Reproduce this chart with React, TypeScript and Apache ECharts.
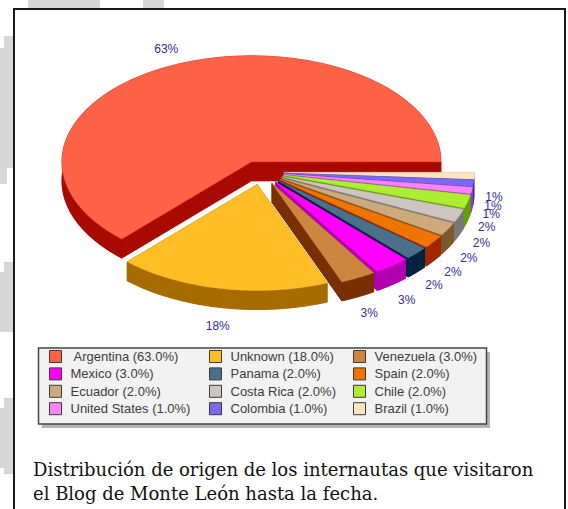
import React, { useEffect, useRef } from "react";
import * as echarts from "echarts";

const categories = ["Argentina", "Unknown", "Venezuela", "Mexico", "Panama", "Spain", "Ecuador", "Costa Rica", "Chile", "United States", "Colombia", "Brazil"];
const shares = [63, 18, 3, 3, 2, 2, 2, 2, 2, 1, 1, 1];
const topColors = ["#FF6347", "#FFBE26", "#CD853F", "#FF00FF", "#4A708B", "#EE7600", "#CDAA7D", "#CDC5BF", "#ADEE35", "#FF83FA", "#7B68EE", "#FFE4C4"];
const sideColors = ["#A80A00", "#A66C00", "#7A2F00", "#B000B0", "#00203F", "#A02800", "#7A5A2A", "#787878", "#60A000", "#A030D0", "#3030C0", "#C8B090"];
const legendColumns = [[0, 3, 6, 9], [1, 4, 7, 10], [2, 5, 8, 11]];
const caption = ["Distribución de origen de los internautas que visitaron", "el Blog de Monte León hasta la fecha."];

const CX = 261.5, CY = 172, RX = 190, RY = 106, DEPTH = 19, EXPLODE = 0.12;
const rad = (d: number) => (d * Math.PI) / 180;
const seriesName = (i: number) => `${categories[i]} (${shares[i].toFixed(1)}%)`;
const startPct = (i: number) => shares.slice(0, i).reduce((a, b) => a + b, 0);

function renderSlice(index: number) {
  return (_params: any, api: any) => {
    const value = api.value(0);
    const a0 = startPct(index) * 3.6;
    const a1 = a0 + value * 3.6;
    const mid = rad((a0 + a1) / 2);
    const nudgeX = index === 0 ? -1 : 0;
    const nudgeY = index === 0 ? 1.5 : 0;
    const radiusX = index === 0 ? 189.5 : RX;
    const ax = CX + nudgeX + RX * EXPLODE * Math.cos(mid);
    const ay = CY + nudgeY - RY * EXPLODE * Math.sin(mid);
    const arc: number[][] = [];
    const steps = Math.max(4, Math.ceil(a1 - a0));
    for (let s = 0; s <= steps; s++) {
      const t = rad(a0 + ((a1 - a0) * s) / steps);
      arc.push([ax + radiusX * Math.cos(t), ay - RY * Math.sin(t)]);
    }
    const down = (p: number[]) => [p[0], p[1] + DEPTH];
    const apex = [ax, ay];
    const dark = sideColors[index];
    const light = topColors[index];
    const side = (points: number[][]) => ({
      type: "polygon",
      shape: { points },
      style: { fill: dark, stroke: dark, lineWidth: 0.6 },
    });
    const cos = Math.cos(mid), sin = Math.sin(mid);
    const lx = (sin > 0 ? 260 : 262) + (cos > 0.95 ? 232 : 236) * cos;
    const ly = 193 - (sin > 0 ? 157 : 135) * sin;
    return {
      type: "group",
      children: [
        side([apex, ...arc].map(down)),
        side([apex, arc[0], down(arc[0]), down(apex)]),
        side([apex, arc[arc.length - 1], down(arc[arc.length - 1]), down(apex)]),
        side([...arc, ...arc.map(down).reverse()]),
        {
          type: "polygon",
          shape: { points: [apex, ...arc] },
          style: { fill: light, stroke: light, lineWidth: 0.4 },
        },
        {
          type: "text",
          style: {
            text: `${Math.round(value)}%`,
            x: lx,
            y: ly,
            align: "center",
            verticalAlign: "middle",
            fill: "#2E2E9A",
            font: "12px 'Liberation Sans'",
          },
        },
      ],
    };
  };
}

export default function App() {
  const ref = useRef<HTMLDivElement>(null);
  useEffect(() => {
    const chart = echarts.init(ref.current!, undefined, { renderer: "svg" });
    const order = [0, 11, 10, 9, 8, 7, 6, 5, 4, 3, 2, 1];
    const blotches = [
      [28, 0, 72, 8], [143, 0, 21, 8],
      [4, 36, 9, 130], [0, 48, 13, 120], [0, 166, 7, 18],
      [4, 262, 9, 70], [0, 272, 13, 60],
      [4, 398, 9, 76], [0, 408, 13, 60],
    ];
    chart.setOption({
      animation: false,
      backgroundColor: "#ffffff",
      tooltip: { show: false },
      legend: legendColumns.map((col, c) => ({
        orient: "vertical",
        left: [49, 209, 353][c],
        top: 350,
        padding: 0,
        itemWidth: 12,
        itemHeight: 12,
        itemGap: 4.4,
        selectedMode: false,
        icon: "rect",
        itemStyle: { borderColor: "#3a3a3a", borderWidth: 1 },
        textStyle: { fontFamily: "'Liberation Sans'", fontSize: 13, color: "#3c3c3c", padding: [0, 0, 0, 4] },
        data: col.map((i) => ({ name: seriesName(i), ...(i === 0 ? { textStyle: { padding: [0, 0, 0, 7] } } : {}) })),
      })),
      series: order.map((i) => ({
        type: "custom",
        name: seriesName(i),
        coordinateSystem: "none",
        silent: true,
        itemStyle: { color: topColors[i] },
        renderItem: renderSlice(i),
        data: [[shares[i]]],
      })),
      graphic: [
        ...blotches.map(([x, y, width, height]) => ({
          type: "rect", z: 0, shape: { x, y, width, height }, style: { fill: "#d6d6d6" },
        })),
        { type: "rect", z: 1, shape: { x: 14, y: 9, width: 551, height: 520 }, style: { fill: "#ffffff", stroke: "#1a1a1a", lineWidth: 2 } },
        { type: "rect", z: 3, shape: { x: 42, y: 352, width: 448, height: 76 }, style: { fill: "#b4b4b4" } },
        { type: "rect", z: 3, shape: { x: 38.5, y: 348, width: 448, height: 76 }, style: { fill: "#f2f2f2", stroke: "#444444", lineWidth: 1.5 } },
        ...caption.map((text, k) => ({
          type: "text", z: 3, style: { text, x: 33, y: 469 + k * 24.5, verticalAlign: "middle", fill: "#111111", font: "18px 'DejaVu Serif'" },
        })),
      ],
    });
    return () => chart.dispose();
  }, []);
  return <div ref={ref} style={{ position: "absolute", left: 0, top: 0, width: 568, height: 509 }} />;
}
